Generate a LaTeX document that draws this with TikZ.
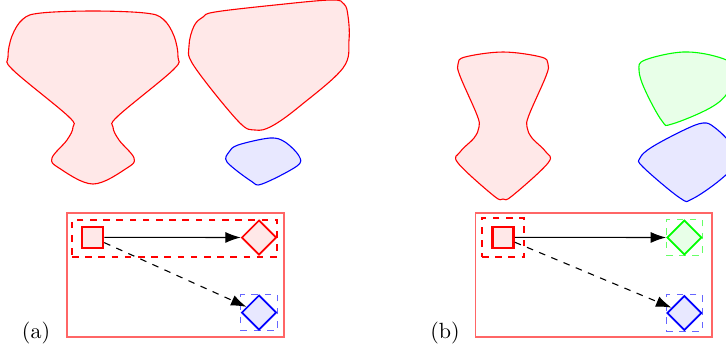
\documentclass[tikz,border=0pt]{standalone}
\usetikzlibrary{shapes.geometric,arrows.meta,fit}
\begin{document}
\begin{tikzpicture}[x=0.4545pt,y=-0.4545pt,
  blob/.style={line width=0.5pt},
  redblob/.style={blob,draw=red,fill=red!9},
  blueblob/.style={blob,draw=blue,fill=blue!9},
  greenblob/.style={blob,draw=green,fill=green!9},
  sqbox/.style={rectangle,draw=red,fill=red!9,line width=1.1pt,minimum size=9.6pt,inner sep=0pt},
  dia/.style={diamond,aspect=1,minimum width=15.8pt,minimum height=15.8pt,inner sep=0pt,line width=0.8pt},
  outerbox/.style={rectangle,draw=red,draw opacity=0.6,line width=0.6pt,inner sep=0pt},
  dashbox/.style={rectangle,dashed,line width=0.5pt,inner sep=0pt},
  arr/.style={line width=0.5pt,-{Latex[length=7pt,width=5pt]}},
  lbl/.style={anchor=base,inner sep=0pt}]
\useasboundingbox (0,0) rectangle (726,352);
\clip (0,0) rectangle (726,352);
% ---- panel (a) blobs
\draw[redblob] plot[smooth cycle,tension=0.6] coordinates {(93,11) (145,13) (163,19) (174,36) (178,57) (173,70) (118,116) (113,127) (119,140) (134,158) (127,168) (93,184) (59,168) (52,158) (67,140) (73,127) (68,116) (13,70) (8,57) (12,36) (23,19) (41,13)};
\draw[redblob] plot[smooth cycle,tension=0.6] coordinates {(215,12) (275,5) (331,0) (344,4) (348,16) (349,40) (343,68) (300,106) (272,126) (255,130) (238,121) (194,66) (189,46) (194,26) (203,17)};
\draw[blueblob] plot[smooth cycle,tension=0.55] coordinates {(238,145) (270,138) (285,142) (299,156) (297,166) (262,184) (251,181) (227,162) (229,152)};
% ---- panel (b) blobs
\draw[redblob] plot[smooth cycle,tension=0.6] coordinates {(503,52) (541,57) (548,64) (546,76) (529,115) (527,127) (532,138) (546,152) (548,163) (512,196) (503,199) (494,196) (458,163) (460,152) (474,138) (479,127) (477,115) (460,76) (458,64) (465,57)};
\draw[greenblob] plot[smooth cycle,tension=0.6] coordinates {(683,52) (718,57) (735,68) (728,92) (710,108) (672,124) (662,121) (645,90) (639,70) (645,60)};
\draw[blueblob] plot[smooth cycle,tension=0.6] coordinates {(703,123) (714,127) (730,143) (736,162) (720,180) (692,199) (680,198) (643,167) (640,158) (652,147) (684,130)};
% ---- panel (a) diagram
\node[outerbox,fit={(67,213) (284,337)}] (fa) {};
\node[sqbox] (sa) at (92.5,237.3) {};
\node[dia,draw=red,fill=red!9] (ra) at (259,237.5) {};
\node[dia,draw=blue,fill=blue!9] (ba) at (259,312.5) {};
\node[dashbox,draw=red,fit={(72,220) (277,257)}] (ga) {};
\node[dashbox,draw=blue,draw opacity=0.6,fit=(ba)] (gba) {};
\draw[arr] (sa) -- (ra);
\draw[arr,dashed] (sa) -- (ba);
\node[lbl] (la) at (36,338) {(a)};
% ---- panel (b) diagram
\node[outerbox,fit={(475.5,213) (712,337)}] (fb) {};
\node[sqbox] (sb) at (503,237.3) {};
\node[dia,draw=green,fill=green!9] (gb) at (684.3,237.5) {};
\node[dia,draw=blue,fill=blue!9] (bb) at (684.3,313) {};
\node[dashbox,draw=red,fit={(482,218) (524,257)}] (gsb) {};
\node[dashbox,draw=green,draw opacity=0.6,fit=(gb)] (ggb) {};
\node[dashbox,draw=blue,draw opacity=0.6,fit=(bb)] (gbb) {};
\draw[arr] (sb) -- (gb);
\draw[arr,dashed] (sb) -- (bb);
\node[lbl] (lb) at (445,338) {(b)};
\end{tikzpicture}
\end{document}
